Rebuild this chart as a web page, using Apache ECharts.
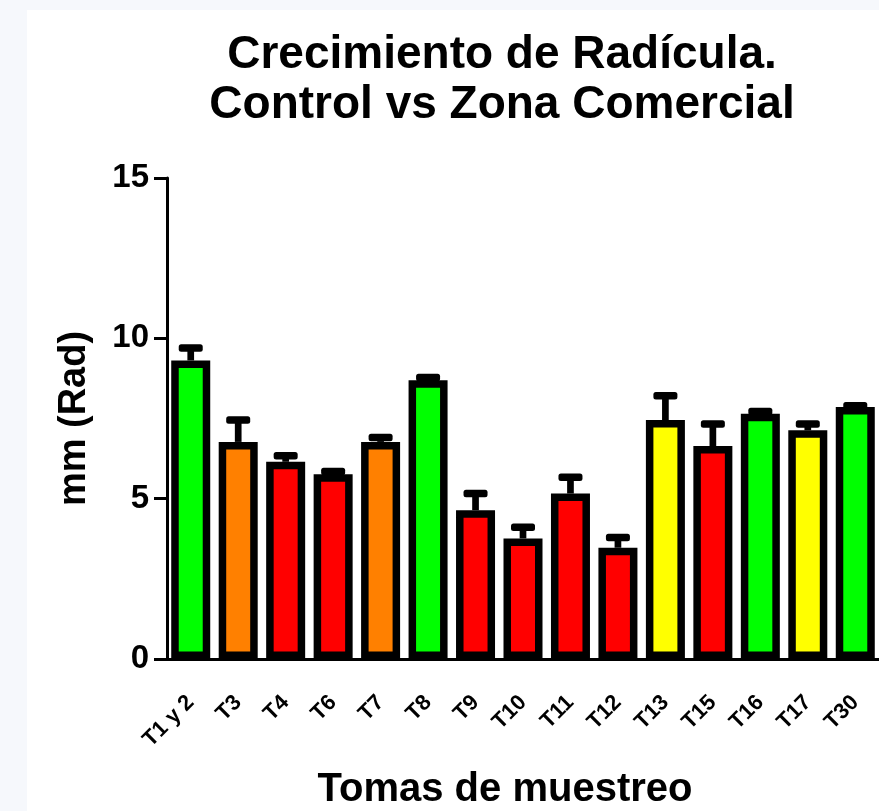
<!DOCTYPE html>
<html>
<head>
<meta charset="utf-8">
<script src="https://cdn.jsdelivr.net/npm/echarts@6/dist/echarts.min.js"></script>
<style>html,body{margin:0;padding:0;background:#f6f8fc;}#c{width:879px;height:811px;}</style>
</head>
<body>
<div id="c"></div>
<script>
const categories = ['T1 y 2','T3','T4','T6','T7','T8','T9','T10','T11','T12','T13','T15','T16','T17','T30'];
const means = [9.31, 6.77, 6.15, 5.76, 6.77, 8.69, 4.64, 3.76, 5.16, 3.47, 7.45, 6.64, 7.65, 7.13, 7.86];
const errors = [0.39, 0.68, 0.19, 0.09, 0.14, 0.09, 0.52, 0.35, 0.51, 0.32, 0.76, 0.69, 0.07, 0.2, 0.04];
const zones = ['green','orange','red','red','orange','green','red','red','red','red','yellow','red','green','yellow','green'];
const yTicks = [0, 5, 10, 15];

const palette = {green:'#00FF00', orange:'#FF8000', red:'#FF0000', yellow:'#FFFF00'};
const FONT = 'Arial, "Liberation Sans", sans-serif';

const chart = echarts.init(document.getElementById('c'));
chart.setOption({
  backgroundColor: '#f6f8fc',
  animation: false,
  graphic: [
    {type:'rect', z:-10, shape:{x:27, y:10, width:900, height:900}, style:{fill:'#ffffff'}},
    {type:'text', x: 505, y: 790, style:{text:'Tomas de muestreo', font:'bold 40px ' + FONT, fill:'#000', align:'center', verticalAlign:'middle'}}
  ],
  title: {
    text: 'Crecimiento de Radícula.\nControl vs Zona Comercial',
    left: 497, top: 25, textAlign: 'center',
    textStyle: {fontFamily: FONT, fontWeight: 'bold', fontSize: 46, lineHeight: 50, color: '#000'}
  },
  grid: {left: 167, top: 178, width: 720, height: 481},
  xAxis: {
    type: 'category',
    data: categories,
    axisLine: {lineStyle: {color: '#000', width: 3}},
    axisTick: {alignWithLabel: true, length: 16, lineStyle: {color:'#000', width: 3}},
    axisLabel: {rotate: 45, margin: 40, color: '#000', fontFamily: FONT, fontWeight: 'bold', fontSize: 22, interval: 0}
  },
  yAxis: {
    type: 'value', min: yTicks[0], max: yTicks[yTicks.length-1], interval: 5,
    name: 'mm (Rad)', nameLocation: 'middle', nameGap: 73, nameRotate: 90,
    nameTextStyle: {fontFamily: FONT, fontWeight: 'bold', fontSize: 38, color: '#000'},
    axisLine: {show: true, lineStyle: {color: '#000', width: 3}},
    axisTick: {show: true, length: 13, lineStyle: {color: '#000', width: 3}},
    splitLine: {show: false},
    axisLabel: {margin: 18, color: '#000', fontFamily: FONT, fontWeight: 'bold', fontSize: 33}
  },
  series: [
    {
      type: 'bar',
      barWidth: 39,
      data: means.map((v, i) => ({value: v, itemStyle: {color: palette[zones[i]]}})),
      itemStyle: {borderColor: '#000', borderWidth: 7.5},
      z: 2
    },
    {
      type: 'custom',
      z: 5,
      data: means.map((v, i) => [i, v, errors[i]]),
      encode: {x: 0, y: 1},
      renderItem: function (params, api) {
        const i = api.value(0), m = api.value(1), e = api.value(2);
        const base = api.coord([i, m]);
        const top = api.coord([i, m + e]);
        return {
          type: 'group',
          children: [
            {type:'rect', shape:{x: base[0]-3.35, y: top[1], width: 6.7, height: base[1]-top[1]}, style:{fill:'#000'}},
            {type:'rect', shape:{x: base[0]-12, y: top[1]-3.75, width: 24, height: 7.5, r: 2.5}, style:{fill:'#000'}}
          ]
        };
      }
    }
  ]
});
</script>
</body>
</html>
